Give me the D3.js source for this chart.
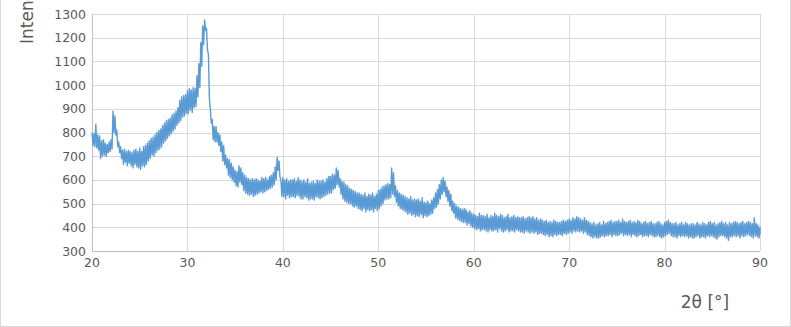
<!DOCTYPE html>
<meta charset="utf-8">
<style>
body { margin: 0; background: #fff; }
text { font-family: "DejaVu Sans", sans-serif; fill: #595959; }
.grid line { stroke: #d9d9d9; stroke-width: 1; }
</style>
<body>
<script src="https://cdn.jsdelivr.net/npm/d3@7"></script>
<script>
// scan start and bin width of the 2theta axis
var thetaStart = 20, thetaStep = 0.2;
// upper and lower edge of the noisy trace per 0.2 deg bin
// one row per degree (.0 .2 .4 .6 .8)
var bandHigh = [
  800, 795, 835, 790, 785,   // 20
  765, 770, 755, 750, 760,   // 21
  770, 890, 870, 810, 760,   // 22
  740, 725, 730, 720, 725,   // 23
  720, 715, 725, 730, 720,   // 24
  735, 720, 740, 745, 755,   // 25
  765, 775, 780, 790, 800,   // 26
  810, 815, 830, 840, 850,   // 27
  855, 860, 875, 880, 890,   // 28
  905, 935, 950, 955, 960,   // 29
  975, 985, 980, 990, 985,   // 30
  1040, 1090, 1180, 1250, 1275, // 31
  1240, 1130, 900, 855, 825, // 32
  825, 800, 790, 760, 745,   // 33
  705, 690, 685, 670, 655,   // 34
  640, 635, 660, 650, 630,   // 35
  620, 610, 605, 600, 605,   // 36
  600, 605, 600, 595, 610,   // 37
  605, 610, 600, 615, 620,   // 38
  630, 655, 695, 680, 600,   // 39
  610, 600, 605, 595, 600,   // 40
  600, 605, 595, 610, 600,   // 41
  595, 600, 590, 605, 585,   // 42
  590, 595, 585, 600, 595,   // 43
  595, 600, 590, 605, 615,   // 44
  615, 625, 620, 650, 640,   // 45
  605, 595, 590, 580, 575,   // 46
  565, 560, 555, 550, 545,   // 47
  545, 540, 535, 545, 530,   // 48
  540, 535, 545, 530, 540,   // 49
  555, 560, 570, 575, 580,   // 50
  585, 580, 650, 630, 575,   // 51
  555, 545, 540, 535, 530,   // 52
  525, 520, 530, 515, 520,   // 53
  515, 520, 510, 525, 505,   // 54
  505, 510, 500, 515, 525,   // 55
  545, 560, 580, 600, 610,   // 56
  595, 570, 555, 540, 510,   // 57
  500, 490, 485, 480, 475,   // 58
  480, 475, 465, 470, 460,   // 59
  455, 450, 445, 460, 450,   // 60
  450, 445, 455, 440, 450,   // 61
  445, 460, 450, 445, 455,   // 62
  450, 440, 445, 455, 440,   // 63
  445, 450, 440, 445, 440,   // 64
  440, 445, 435, 440, 445,   // 65
  440, 445, 435, 440, 430,   // 66
  435, 430, 425, 430, 420,   // 67
  425, 420, 430, 425, 420,   // 68
  420, 425, 430, 425, 430,   // 69
  435, 430, 440, 435, 445,   // 70
  440, 435, 430, 440, 430,   // 71
  425, 420, 415, 420, 410,   // 72
  415, 420, 410, 425, 415,   // 73
  420, 425, 430, 420, 425,   // 74
  425, 430, 420, 435, 425,   // 75
  420, 425, 430, 420, 425,   // 76
  420, 430, 425, 415, 420,   // 77
  425, 415, 420, 425, 415,   // 78
  415, 420, 425, 415, 410,   // 79
  420, 425, 430, 420, 415,   // 80
  415, 420, 410, 415, 420,   // 81
  410, 420, 415, 410, 415,   // 82
  415, 410, 420, 415, 410,   // 83
  420, 415, 410, 420, 425,   // 84
  415, 420, 410, 415, 420,   // 85
  425, 415, 420, 410, 420,   // 86
  415, 420, 425, 420, 415,   // 87
  420, 425, 415, 420, 425,   // 88
  420, 415, 440, 415, 410,   // 89
  400                        // 90
];
var bandLow = [
  745, 740, 735, 725, 690,   // 20
  700, 705, 700, 715, 720,   // 21
  730, 800, 790, 740, 715,   // 22
  690, 665, 675, 660, 670,   // 23
  660, 650, 665, 655, 650,   // 24
  645, 660, 655, 665, 680,   // 25
  690, 705, 700, 715, 725,   // 26
  730, 740, 755, 765, 775,   // 27
  785, 795, 805, 815, 830,   // 28
  840, 850, 865, 870, 880,   // 29
  880, 895, 885, 905, 910,   // 30
  950, 990, 1080, 1170, 1230, // 31
  1150, 940, 840, 770, 760,  // 32
  760, 745, 720, 680, 665,   // 33
  650, 620, 610, 600, 590,   // 34
  575, 570, 590, 580, 555,   // 35
  545, 540, 535, 540, 530,   // 36
  535, 540, 545, 550, 545,   // 37
  550, 555, 560, 565, 570,   // 38
  580, 600, 640, 610, 530,   // 39
  530, 520, 535, 525, 530,   // 40
  530, 525, 535, 530, 520,   // 41
  520, 530, 525, 515, 520,   // 42
  520, 515, 530, 525, 520,   // 43
  525, 530, 535, 540, 545,   // 44
  545, 560, 565, 580, 570,   // 45
  540, 520, 510, 505, 500,   // 46
  500, 490, 485, 490, 480,   // 47
  475, 470, 480, 465, 475,   // 48
  470, 475, 465, 480, 470,   // 49
  480, 490, 500, 515, 520,   // 50
  520, 525, 540, 530, 505,   // 51
  490, 480, 475, 470, 465,   // 52
  455, 460, 450, 455, 445,   // 53
  450, 445, 455, 440, 450,   // 54
  445, 450, 455, 460, 480,   // 55
  485, 500, 520, 540, 550,   // 56
  530, 510, 490, 470, 460,   // 57
  440, 435, 430, 425, 420,   // 58
  420, 410, 415, 405, 400,   // 59
  395, 390, 395, 385, 390,   // 60
  390, 385, 380, 390, 385,   // 61
  385, 390, 380, 395, 385,   // 62
  380, 385, 390, 380, 385,   // 63
  385, 380, 390, 385, 380,   // 64
  380, 375, 385, 380, 375,   // 65
  380, 375, 380, 370, 375,   // 66
  375, 370, 365, 370, 360,   // 67
  365, 360, 370, 365, 370,   // 68
  370, 365, 375, 370, 375,   // 69
  380, 375, 385, 380, 385,   // 70
  380, 385, 375, 380, 370,   // 71
  365, 360, 355, 360, 355,   // 72
  355, 360, 365, 360, 365,   // 73
  365, 370, 360, 370, 365,   // 74
  365, 370, 375, 365, 370,   // 75
  365, 370, 360, 370, 365,   // 76
  360, 365, 370, 360, 365,   // 77
  365, 360, 370, 365, 360,   // 78
  360, 365, 360, 355, 360,   // 79
  365, 370, 375, 365, 360,   // 80
  360, 355, 365, 360, 365,   // 81
  360, 365, 355, 360, 355,   // 82
  355, 360, 365, 355, 360,   // 83
  360, 355, 365, 360, 365,   // 84
  360, 355, 350, 360, 365,   // 85
  365, 360, 355, 345, 360,   // 86
  360, 365, 360, 365, 355,   // 87
  365, 360, 365, 370, 365,   // 88
  360, 355, 365, 360, 355,   // 89
  370                        // 90
];
var xTicks = [20, 30, 40, 50, 60, 70, 80, 90];
var yTicks = [300, 400, 500, 600, 700, 800, 900, 1000, 1100, 1200, 1300];

var width = 791, height = 327;
var margin = {top: 14, right: 31, bottom: 76, left: 92};

var svg = d3.select("body").append("svg")
    .attr("width", width)
    .attr("height", height);

// chart border
svg.append("rect")
    .attr("x", 0.5).attr("y", -2)
    .attr("width", width - 1).attr("height", height + 1.5)
    .attr("fill", "none")
    .attr("stroke", "#d9d9d9");

var x = d3.scaleLinear().domain([20, 90]).range([margin.left, width - margin.right]);
var y = d3.scaleLinear().domain([300, 1300]).range([height - margin.bottom, margin.top]);

var g = svg.append("g").attr("class", "grid");
g.selectAll(".hg").data(yTicks).enter().append("line")
    .attr("x1", x(20)).attr("x2", x(90))
    .attr("y1", function(d) { return Math.round(y(d)) + 0.5; })
    .attr("y2", function(d) { return Math.round(y(d)) + 0.5; });
g.selectAll(".vg").data(xTicks).enter().append("line")
    .attr("y1", y(300)).attr("y2", y(1300))
    .attr("x1", function(d) { return Math.round(x(d)) + 0.5; })
    .attr("x2", function(d) { return Math.round(x(d)) + 0.5; });
// axis lines a bit darker
svg.append("line")
    .attr("x1", x(20)).attr("x2", x(90))
    .attr("y1", Math.round(y(300)) + 0.5).attr("y2", Math.round(y(300)) + 0.5)
    .attr("stroke", "#bfbfbf");
svg.append("line")
    .attr("x1", Math.round(x(20)) + 0.5).attr("x2", Math.round(x(20)) + 0.5)
    .attr("y1", y(300)).attr("y2", y(1300))
    .attr("stroke", "#bfbfbf");

// the trace jumps between the upper and lower edge of each bin
var pts = [];
bandHigh.forEach(function(h, i) {
  var t = thetaStart + i * thetaStep;
  pts.push([t, h]);
  pts.push([Math.min(t + thetaStep / 2, 90), bandLow[i]]);
});

var line = d3.line()
    .x(function(d) { return x(d[0]); })
    .y(function(d) { return y(d[1]); });

svg.append("path")
    .datum(pts)
    .attr("d", line)
    .attr("fill", "none")
    .attr("stroke", "#5b9bd5")
    .attr("stroke-width", 1.4)
    .attr("stroke-linejoin", "round");

// tick labels
svg.selectAll(".yl").data(yTicks).enter().append("text")
    .attr("x", margin.left - 6)
    .attr("y", function(d) { return y(d); })
    .attr("dy", "0.36em")
    .attr("text-anchor", "end")
    .style("font-size", "12.5px")
    .text(function(d) { return d; });
svg.selectAll(".xl").data(xTicks).enter().append("text")
    .attr("x", function(d) { return x(d); })
    .attr("y", y(300) + 16)
    .attr("text-anchor", "middle")
    .style("font-size", "12.5px")
    .text(function(d) { return d; });

// axis titles
svg.append("text")
    .attr("transform", "translate(33,44) rotate(-90)")
    .attr("text-anchor", "start")
    .style("font-size", "17px")
    .text("Intensity [a.u.]");
svg.append("text")
    .attr("x", 705)
    .attr("y", 308)
    .attr("text-anchor", "middle")
    .style("font-size", "17px")
    .text("2θ [°]");
</script>
</body>
